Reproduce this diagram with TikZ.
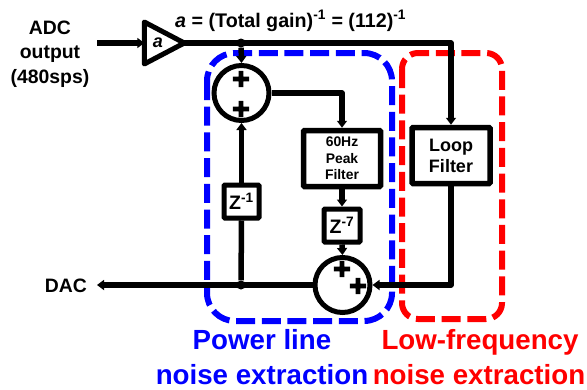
\documentclass[tikz,border=0pt]{standalone}
\usepackage{fontspec}
\setmainfont{Liberation Sans}
\newfontfamily\signfont[FakeBold=14]{DejaVu Sans}
\usetikzlibrary{arrows.meta,shapes.geometric,backgrounds}
\pgfdeclarelayer{myback}
\pgfsetlayers{myback,background,main}
\tikzset{
  wire/.style = {line width=5.5pt,line join=round},
  arrowwire/.style = {wire,-{Triangle[length=7pt,width=10pt]}},
  dotnode/.style = {circle,fill=black,inner sep=0pt,minimum size=9pt},
  sumnode/.style = {circle,draw,line width=5pt,inner sep=0pt,minimum size=55pt},
  signnode/.style = {inner sep=0pt,font=\signfont\fontsize{21}{21}\selectfont},
  blocknode/.style = {draw,line width=5.5pt,rounded corners=1pt,align=center,inner sep=0pt,font=\bfseries},
  delaynode/.style = {draw,line width=5pt,rounded corners=1pt,inner sep=0pt,font=\fontsize{19.5}{20}\selectfont\bfseries},
  labelnode/.style = {align=center,inner sep=0pt,font=\fontsize{19.4}{24.5}\selectfont\bfseries},
  groupnode/.style = {align=center,inner sep=0pt,font=\fontsize{27.7}{36}\selectfont\bfseries,text=#1},
}
\NewDocumentCommand{\fregion}{O{blue} O{28pt} m m}{%
\draw[#1,line width=6pt,dash pattern=on 19pt off 6.7pt,rounded corners=#2] (#3) rectangle (#4);
}

\begin{document}
\begin{tikzpicture}[x=1pt,y=-1pt]
\useasboundingbox (0,0) rectangle (587,389);

\node[labelnode] (adc) at (50,54) {ADC\\output\\(480sps)};
\node[labelnode] (dac) at (66,286) {DAC};
\node[labelnode,anchor=base west,font=\fontsize{19.7}{24}\selectfont\bfseries] (gain) at (175,27)
  {\textit{a} = (Total gain)\textsuperscript{-1} = (112)\textsuperscript{-1}};

\node[draw,isosceles triangle,isosceles triangle stretches,line width=5pt,line join=round,
  inner sep=0pt,outer sep=0pt,minimum width=42pt,minimum height=40pt] (amp) at (157,43) {};
\node[labelnode,font=\fontsize{18}{18}\selectfont\bfseries\itshape] (ampgain) at (158,43) {a};
\coordinate (adcout) at (97,43);

\node[dotnode] (split) at (241,43) {};
\node[dotnode] (tap) at (241,285) {};
\node[sumnode] (suma) at (241.5,93) {};
\node[sumnode] (sumb) at (342.5,285) {};
\node[signnode] (sumap) at (241,79) {+};
\node[signnode] (sumaq) at (241,109) {+};
\node[signnode] (sumbp) at (342,269) {+};
\node[signnode] (sumbq) at (358,286) {+};

\node[blocknode,minimum width=77pt,minimum height=56pt,font=\fontsize{13.9}{16.7}\selectfont\bfseries] (peak) at (342,158.5) {60Hz\\Peak\\Filter};
\node[blocknode,minimum width=78pt,minimum height=56pt,font=\fontsize{18}{21}\selectfont\bfseries] (loop) at (451,155.5) {Loop\\Filter};
\node[delaynode,minimum width=35pt,minimum height=33pt] (zone) at (241.5,201.5) {Z\textsuperscript{-1}};
\node[delaynode,minimum width=36pt,minimum height=33pt] (zseven) at (342,225.5) {Z\textsuperscript{-7}};

\draw[arrowwire] (adcout) -- (amp.west);
\draw[arrowwire] (amp.east) -- (amp.east -| loop.north) -- (loop.north);
\draw[arrowwire] (split) -- (suma.north);
\draw[arrowwire] (zone.north) -- (suma.south);
\draw[wire] (zone.south) -- (tap);
\draw[arrowwire] (suma.east) -| (peak.north);
\draw[arrowwire] (peak.south) -- (zseven.north);
\draw[arrowwire] (zseven.south) -- (sumb.north);
\draw[arrowwire] (loop.south) |- (sumb.east);
\draw[arrowwire] (sumb.west) -- (97,285);

\begin{pgfonlayer}{myback}
\fregion[blue][28pt]{207,53}{392,321}
\fregion[red][16pt]{402,53}{502,319}
\end{pgfonlayer}

\node[groupnode=blue,anchor=base] (power) at (262,349) {Power line};
\node[groupnode=blue,anchor=base] (powerb) at (262,384) {noise extraction};
\node[groupnode=red,anchor=base] (low) at (480,349) {Low-frequency};
\node[groupnode=red,anchor=base] (lowb) at (479,384) {noise extraction};
\end{tikzpicture}
\end{document}
